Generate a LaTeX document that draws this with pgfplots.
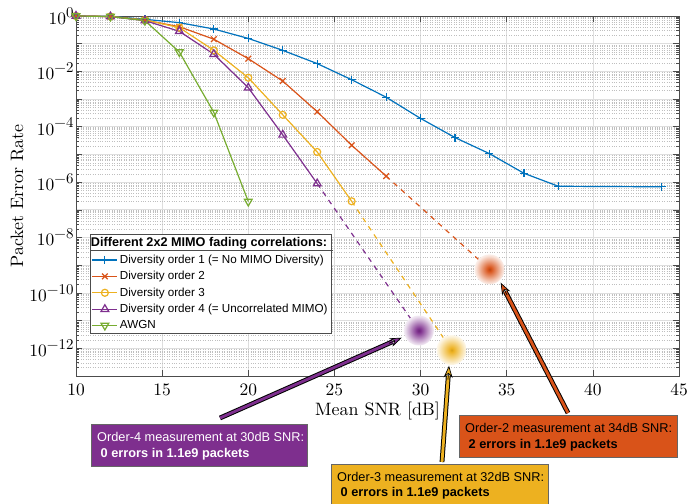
\documentclass[border=0pt]{standalone}
\usepackage{fontspec}
\setmainfont{lmroman10-regular}[Extension=.otf, BoldFont=lmroman10-bold, ItalicFont=lmroman10-italic]
\usepackage{pgfplots}
\pgfplotsset{compat=1.18}
\usetikzlibrary{arrows.meta,calc}
\newfontfamily\hv{Liberation Sans}
\definecolor{cB}{rgb}{0,0.447,0.741}
\definecolor{cO}{rgb}{0.85,0.325,0.098}
\definecolor{cY}{rgb}{0.929,0.694,0.125}
\definecolor{cP}{rgb}{0.494,0.184,0.556}
\definecolor{cG}{rgb}{0.466,0.674,0.188}

\pgfdeclareradialshading{glowO}{\pgfpointorigin}{color(0bp)=(cO!85!black); color(3bp)=(cO); color(10bp)=(cO!70!white); color(17bp)=(cO!40!white); color(23bp)=(cO!15!white); color(28bp)=(cO!3!white); color(30bp)=(white); color(50bp)=(white)}
\pgfdeclareradialshading{glowY}{\pgfpointorigin}{color(0bp)=(cY!90!black); color(3bp)=(cY); color(10bp)=(cY!70!white); color(17bp)=(cY!40!white); color(23bp)=(cY!15!white); color(28bp)=(cY!3!white); color(30bp)=(white); color(50bp)=(white)}
\pgfdeclareradialshading{glowP}{\pgfpointorigin}{color(0bp)=(cP!85!black); color(3bp)=(cP); color(10bp)=(cP!70!white); color(17bp)=(cP!40!white); color(23bp)=(cP!15!white); color(28bp)=(cP!3!white); color(30bp)=(white); color(50bp)=(white)}
\pgfdeclareplotmark{glowO}{\pgfpathcircle{\pgfpointorigin}{15bp}\pgfshadepath{glowO}{0}\pgfusepath{discard}}
\pgfdeclareplotmark{glowY}{\pgfpathcircle{\pgfpointorigin}{15bp}\pgfshadepath{glowY}{0}\pgfusepath{discard}}
\pgfdeclareplotmark{glowP}{\pgfpathcircle{\pgfpointorigin}{15bp}\pgfshadepath{glowP}{0}\pgfusepath{discard}}
\newcommand\ep[1]{10\raisebox{0.42em}{\fontsize{15}{16}\selectfont #1}}

\begin{document}
\begin{tikzpicture}
\useasboundingbox (0,0) rectangle (697bp,504bp);
\begin{axis}[
  at={(76bp,128bp)}, anchor=south west, scale only axis,
  width=603bp, height=360bp,
  xmin=10, xmax=45, ymode=log, ymin=1e-13, ymax=1,
  xtick={10,15,...,45},
  /pgf/number format/assume math mode=true,
  ytick={1e-13,1e-12,1e-11,1e-10,1e-9,1e-8,1e-7,1e-6,1e-5,1e-4,1e-3,1e-2,1e-1,1},
  yticklabels={,\ep{−12},,\ep{−10},,\ep{−8},,\ep{−6},,\ep{−4},,\ep{−2},,\ep{0}},
  grid=both,
  major grid style={black!13, line width=0.7bp},
  minor grid style={black!25, dotted, line width=0.5bp},
  axis line style={black!70, line width=0.7bp},
  tick style={black!70, line width=0.6bp},
  major tick length=6bp, minor tick length=3bp,
  ticklabel style={font=\fontsize{17.5}{19}\selectfont},
  xticklabel style={yshift=-4bp},
  yticklabel style={xshift=1bp},
  xlabel={Mean SNR [dB]}, ylabel={Packet Error Rate},
  label style={font=\fontsize{18}{20}\selectfont},
  xlabel style={yshift=1bp},
  ylabel style={yshift=-1bp},
  clip=false,
  legend cell align=left,
  legend style={at={(0.0232,0.3944)}, anchor=north west,
    font=\hv\fontsize{11.7}{13}\selectfont, draw=black!70, line width=0.6bp,
    inner sep=1.5bp, row sep=2.5bp},
  legend image code/.code={\draw[mark repeat=2,mark phase=2] plot coordinates {(0bp,0bp)(12.5bp,0bp)(25bp,0bp)};},
  every axis plot/.append style={line width=1.2bp},
]
\addlegendimage{empty legend}
\addlegendentry{\hspace*{-29bp}\fontsize{12.7}{14}\selectfont\bfseries Different 2x2 MIMO fading correlations:}

\addplot[cB, mark=+, mark size=4bp] coordinates {
(10,1.0)(12,0.97)(14,0.76)(16,0.575)(18,0.339)(20,0.155)(22,0.0575)(24,0.0191)
(26,5.0e-3)(28,1.17e-3)(30,2.0e-4)(32,4.07e-5)(34,1.07e-5)(36,2.09e-6)(38,7.1e-7)(44,6.8e-7)};
\addlegendentry{Diversity order 1 (= No MIMO Diversity)}

\addplot[cO, mark=x, mark size=4bp] coordinates {
(10,1.0)(12,0.955)(14,0.71)(16,0.41)(18,0.145)(20,0.0288)(22,4.47e-3)(24,3.5e-4)(26,2.15e-5)(28,1.66e-6)};
\addlegendentry{Diversity order 2}

\addplot[cY, mark=o, mark size=3.5bp] coordinates {
(10,1.0)(12,0.96)(14,0.72)(16,0.38)(18,0.0575)(20,5.9e-3)(22,2.7e-4)(24,1.23e-5)(26,2.04e-7)};
\addlegendentry{Diversity order 3}

\addplot[cP, mark=triangle, mark size=4.5bp] coordinates {
(10,1.0)(12,0.95)(14,0.68)(16,0.28)(18,0.0417)(20,2.57e-3)(22,5.1e-5)(24,8.9e-7)};
\addlegendentry{Diversity order 4 (= Uncorrelated MIMO)}

\addplot[cG, mark=triangle, mark size=4.5bp, mark options={rotate=180}] coordinates {
(10,1.0)(12,0.96)(14,0.68)(16,0.05)(18,3.3e-4)(20,2.0e-7)};
\addlegendentry{AWGN}

% extrapolation to measurements
\addplot[cO, dashed, dash pattern=on 5bp off 5bp, forget plot] coordinates {(28,1.66e-6)(34,7.1e-10)};
\addplot[cY, dashed, dash pattern=on 5bp off 5bp, forget plot] coordinates {(26,2.04e-7)(31.8,8.7e-13)};
\addplot[cP, dashed, dash pattern=on 5bp off 5bp, forget plot] coordinates {(24,8.9e-7)(29.9,4.4e-12)};

% measurements
\addplot[only marks, mark=glowO, forget plot] coordinates {(34,7.1e-10)};
\addplot[only marks, mark=glowY, forget plot] coordinates {(31.8,8.7e-13)};
\addplot[only marks, mark=glowP, forget plot] coordinates {(29.9,4.4e-12)};
\end{axis}

% legend separator
\draw[black!70, line width=0.6bp] (90bp,254bp) -- (333bp,254bp);

% arrows
\newcommand\fatarrow[3]{%
  \draw[black, line width=1bp, double=#1, double distance=2.8bp, shorten >=10bp] (#2) -- (#3);
  \draw[black, line width=0.7bp, -{Stealth[length=12bp,width=9bp,fill=#1]}] ($(#3)!14bp!(#2)$) -- (#3);
}
\fatarrow{cP}{220bp,86bp}{401.7bp,166.3bp}
\fatarrow{cY}{442bp,42bp}{449bp,138.3bp}
\fatarrow{cO}{568bp,91bp}{500.7bp,221.3bp}

% boxes
\filldraw[fill=cP, draw=black!60, line width=0.7bp] (91bp,38bp) rectangle (307bp,80bp);
\node[anchor=west, text=white, font=\hv\fontsize{12.8}{14}\selectfont, inner sep=0pt] at (97bp,67bp) {Order-4 measurement at 30dB SNR:};
\node[anchor=west, text=white, font=\hv\fontsize{12.8}{14}\selectfont\bfseries, inner sep=0pt] at (97bp,50bp) {\ 0 errors in 1.1e9 packets};

\filldraw[fill=cO, draw=black!60, line width=0.7bp] (459bp,47bp) rectangle (677bp,89bp);
\node[anchor=west, text=black, font=\hv\fontsize{12.8}{14}\selectfont, inner sep=0pt] at (465bp,76bp) {Order-2 measurement at 34dB SNR:};
\node[anchor=west, text=black, font=\hv\fontsize{12.8}{14}\selectfont\bfseries, inner sep=0pt] at (465bp,59bp) {\ 2 errors in 1.1e9 packets};

\filldraw[fill=cY, draw=black!60, line width=0.7bp] (331bp,-2bp) rectangle (548bp,40bp);
\node[anchor=west, text=black, font=\hv\fontsize{12.8}{14}\selectfont, inner sep=0pt] at (337bp,27bp) {Order-3 measurement at 32dB SNR:};
\node[anchor=west, text=black, font=\hv\fontsize{12.8}{14}\selectfont\bfseries, inner sep=0pt] at (337bp,11bp) {\ 0 errors in 1.1e9 packets};
\end{tikzpicture}
\end{document}
